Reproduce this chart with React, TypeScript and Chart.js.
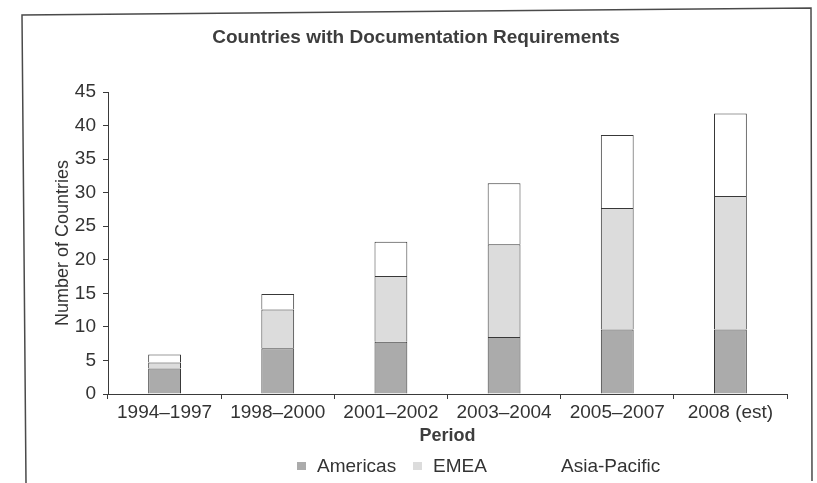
import React, { useEffect, useRef } from 'react';
import { Chart, registerables } from 'chart.js';

Chart.register(...registerables);

const chartTitle = 'Countries with Documentation Requirements';
const periods = ['1994–1997', '1998–2000', '2001–2002', '2003–2004', '2005–2007', '2008 (est)'];
const americas = [3.8, 6.8, 7.8, 8.5, 9.6, 9.6];
const emea = [0.9, 5.8, 9.8, 13.8, 18.1, 19.9];
const asiaPacific = [1.2, 2.3, 5.1, 9.1, 10.9, 12.3];
const seriesNames = ['Americas', 'EMEA', 'Asia-Pacific'];
const seriesColors = ['#ababab', '#dcdcdc', '#ffffff'];
const xTitle = 'Period';
const yTitle = 'Number of Countries';

const FONT = '"Liberation Sans", Arial, Helvetica, sans-serif';
const LEGEND_X = [297, 413, 541];

const decor = {
  id: 'decor',
  afterDraw(chart: any) {
    const ctx = chart.ctx as CanvasRenderingContext2D;
    ctx.save();
    // frame
    ctx.strokeStyle = '#4a4a4a';
    ctx.lineWidth = 1.5;
    ctx.beginPath();
    ctx.moveTo(26, 483);
    ctx.lineTo(22, 15);
    ctx.lineTo(811, 8);
    ctx.lineTo(812, 481);
    ctx.stroke();
    // title
    ctx.fillStyle = '#3d3d3d';
    ctx.font = `bold 19px ${FONT}`;
    ctx.textAlign = 'center';
    ctx.textBaseline = 'middle';
    ctx.fillText(chartTitle, 416, 38);
    // legend
    ctx.font = `19px ${FONT}`;
    ctx.textAlign = 'left';
    chart.data.datasets.forEach((ds: any, i: number) => {
      const x = LEGEND_X[i];
      ctx.fillStyle = ds.backgroundColor;
      ctx.fillRect(x, 462, 9, 8);
      ctx.fillStyle = '#333333';
      ctx.fillText(ds.label, x + 20, 467);
    });
    ctx.restore();
  },
};

export default function App() {
  const ref = useRef<HTMLCanvasElement | null>(null);

  useEffect(() => {
    document.body.style.margin = '0';
    const canvas = ref.current;
    if (!canvas) return;
    const values = [americas, emea, asiaPacific];
    const chart = new Chart(canvas, {
      type: 'bar',
      data: {
        labels: periods,
        datasets: seriesNames.map((name, i) => ({
          label: name,
          data: values[i],
          backgroundColor: seriesColors[i],
          borderColor: '#383838',
          borderWidth: 1,
          categoryPercentage: 1,
          barPercentage: 0.29,
        })),
      },
      options: {
        responsive: false,
        animation: false,
        devicePixelRatio: 1,
        layout: { padding: { left: 22, right: 30, top: 92, bottom: 34 } },
        plugins: {
          legend: { display: false },
          title: { display: false },
          tooltip: { enabled: false },
        },
        scales: {
          x: {
            stacked: true,
            grid: { drawOnChartArea: false, drawTicks: true, tickLength: 5, color: '#3a3a3a', offset: true },
            border: { display: true, color: '#3a3a3a', width: 1 },
            ticks: { color: '#333333', font: { family: FONT, size: 19 }, padding: 2, maxRotation: 0, autoSkip: false },
            title: { display: true, text: xTitle, color: '#3d3d3d', font: { family: FONT, size: 18, weight: 'bold' }, padding: { top: 0, bottom: 2 } },
            afterFit: (s: any) => { s.height = 55; },
          },
          y: {
            stacked: true,
            min: 0,
            max: 45,
            grid: { drawOnChartArea: false, drawTicks: true, tickLength: 5, color: '#3a3a3a' },
            border: { display: true, color: '#3a3a3a', width: 1 },
            ticks: { stepSize: 5, color: '#333333', font: { family: FONT, size: 19 }, padding: 7 },
            title: { display: true, text: yTitle, color: '#333333', font: { family: FONT, size: 18 }, padding: { top: 30, bottom: 0 } },
            afterFit: (s: any) => { s.width = 86; },
          },
        },
      },
      plugins: [decor],
    });
    return () => chart.destroy();
  }, []);

  return (
    <div style={{ position: 'fixed', left: 0, top: 0, width: 817, height: 483, background: '#fff' }}>
      <canvas ref={ref} width={817} height={483} />
    </div>
  );
}
